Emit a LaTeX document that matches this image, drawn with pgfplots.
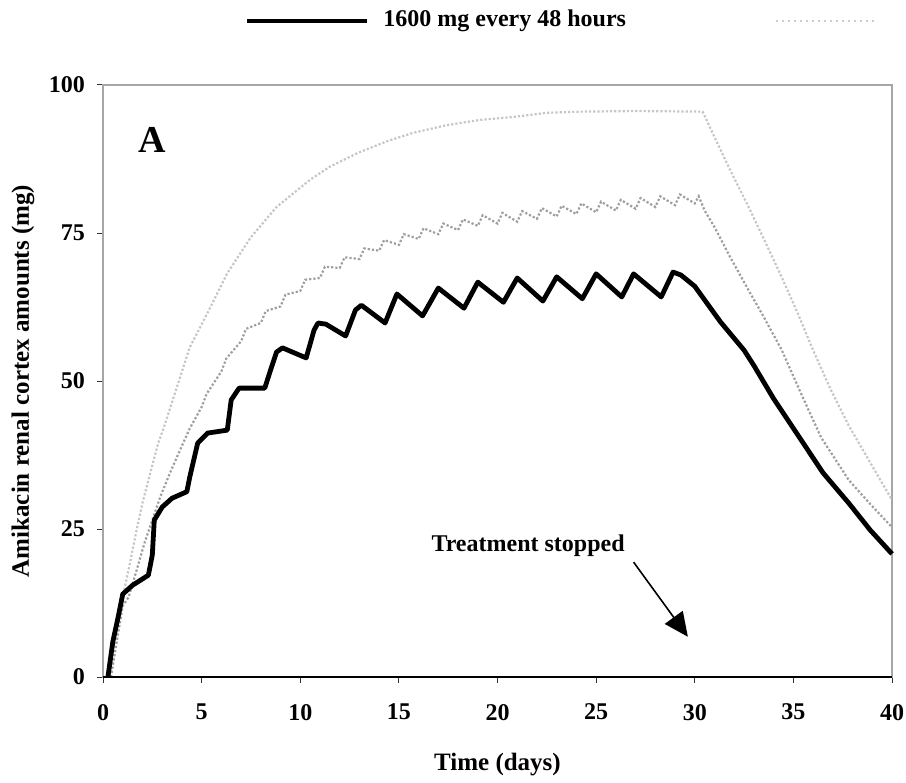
\documentclass[border=0pt]{standalone}
\usepackage{fontspec}
\setmainfont{Liberation Serif}
\usepackage{pgfplots}
\pgfplotsset{compat=1.18}
\usetikzlibrary{arrows.meta}
\begin{document}
\begin{tikzpicture}
\begin{axis}[
  name=ax,
  scale only axis, width=394.5pt, height=296pt,
  xmin=0, xmax=40, ymin=0, ymax=100,
  xtick={0,5,...,40}, ytick={0,25,50,75,100},
  tick align=outside, tick pos=left, major tick length=3pt,
  axis line style={gray!70, line width=0.6pt},
  tick style={black!80, line width=0.5pt},
  /pgf/number format/assume math mode=true,
  ticklabel style={font=\fontsize{12}{14}\selectfont\bfseries},
  xticklabel style={yshift=-7pt},
  yticklabel style={xshift=-2.5pt},
  xlabel={Time (days)}, ylabel={Amikacin renal cortex amounts (mg)},
  label style={font=\fontsize{12.5}{15}\selectfont\bfseries},
  xlabel style={at={(axis description cs:0.5,-0.1486)}, anchor=center},
  ylabel style={at={(axis description cs:-0.1014,0.5)}, anchor=center},
  clip=false,
]
% top curve (light gray dotted)
\addplot[gray!45, line width=1.1pt, densely dotted] coordinates {
(0.4,0) (0.7,7) (1.0,13.5) (1.37,19.3) (1.7,24.8) (2.0,29.4) (2.4,34.5) (2.8,39.5) (3.1,42.3)
(3.75,49) (4.4,55.7) (5.3,61.5) (6.3,68.2) (7.5,74.3) (8.8,79.4) (10.5,84) (11.5,86.2)
(12.9,88.5) (14.4,90.5) (15.7,91.9) (17.4,93.2) (19.1,94.1) (20.8,94.6) (22.5,95.3)
(24.2,95.5) (27,95.6) (30.4,95.5) (31.0,91.2) (31.8,85.6) (32.7,79.6) (33.5,74) (34.4,67.6)
(35.2,61.6) (36.0,55.2) (36.9,48.5) (37.8,42.5) (38.9,36.2) (40,29.9)
};
% middle curve (gray dotted, daily oscillation)
\addplot[gray!75, line width=1.1pt, densely dotted] coordinates {
(0.4,0) (0.7,6) (1.0,12) (1.3,13.5) (1.7,18) (2.1,22.6) (2.5,26.5) (2.9,30.4) (3.4,34.5)
(3.9,38.3) (4.4,42) (5.0,45.6) (5.25,47.8) (6.0,51.6) (6.25,53.8) (7.0,56.7) (7.25,58.8)
(8.0,59.8) (8.25,61.8) (9.0,62.6) (9.25,64.6) (10.0,65.2) (10.25,67.1) (11.0,67.4) (11.25,69.3)
(12.0,69.1) (12.25,70.9) (13.0,70.6) (13.25,72.4) (14.0,72.0) (14.25,73.8) (15.0,73.0) (15.25,74.8)
(16.0,74.0) (16.25,75.8) (17.0,74.8) (17.25,76.6) (18.0,75.5) (18.25,77.3) (19.0,76.2) (19.25,78.0)
(20.0,76.6) (20.25,78.4) (21.0,76.9) (21.25,78.7) (22.0,77.4) (22.25,79.2) (23.0,77.8) (23.25,79.6)
(24.0,78.2) (24.25,80.0) (25.0,78.5) (25.25,80.3) (26.0,78.8) (26.25,80.6) (27.0,79.1) (27.25,80.9)
(28.0,79.4) (28.25,81.2) (29.0,79.7) (29.25,81.5) (30.0,80.0) (30.2,81.2)
(30.5,78.8) (31.0,76) (31.8,70.9) (32.7,65.5) (33.5,60.8) (34.4,55.3) (35.4,47.8) (36.4,40.5)
(37.8,33.3) (38.9,29.2) (40,25.3)
};
% 1600 mg every 48 hours (black)
\addplot[black, line width=2.4pt, line join=round] coordinates {
(0.25,0) (0.5,6) (0.76,10) (1.0,14) (1.5,15.5) (2.3,17.2) (2.5,20.6) (2.6,26.5) (3.0,28.7)
(3.5,30.2) (4.25,31.3) (4.4,33.8) (4.8,39.5) (5.3,41.2) (6.3,41.7) (6.5,46.8) (6.9,48.8)
(8.2,48.8) (8.5,51.9) (8.8,54.9) (9.1,55.6) (10.3,53.9) (10.7,58.6) (10.9,59.8) (11.3,59.6)
(12.3,57.6) (12.8,62) (13.1,62.8) (14.3,59.8) (14.9,64.7) (16.2,61) (17.0,65.7) (18.3,62.3)
(19.0,66.7) (20.3,63.3) (21.0,67.4) (22.3,63.5) (23.0,67.6) (24.3,63.9) (25.0,68.1) (26.3,64.2)
(26.9,68.1) (28.3,64.2) (28.9,68.4) (29.3,67.9) (30.0,66) (31.3,60) (32.5,55.2) (33.0,52.6)
(34.0,47) (35.4,40) (36.5,34.5) (37.8,29.4) (38.9,24.8) (40,20.8)
};
\draw[black, line width=0.9pt] (rel axis cs:0,0) -- (rel axis cs:1,0);
\node[font=\fontsize{19}{22}\selectfont\bfseries] at (axis cs:2.49,90.7) {A};
\node[font=\fontsize{12}{14}\selectfont\bfseries] at (axis cs:21.55,22.1) {Treatment stopped};
\draw[line width=0.8pt, -{Triangle[length=12pt,width=11pt]}] (axis cs:26.9,19.4) -- (axis cs:29.65,6.8);
% legend (partially visible)
\draw[black, line width=1.6pt] (axis description cs:0.1825,1.108) -- (axis description cs:0.3346,1.108);
\node[anchor=west, inner sep=0pt, font=\fontsize{12}{14}\selectfont\bfseries] at (axis description cs:0.3549,1.108) {1600 mg every 48 hours};
\draw[gray!40, line width=1pt, dotted] (axis description cs:0.853,1.108) -- (axis description cs:0.980,1.108);
\end{axis}
\path (ax.south west) ++(-51.5pt,-52.5pt) coordinate (bl);
\path (ax.north east) ++(7pt,42.5pt) coordinate (tr);
\pgfresetboundingbox
\path[use as bounding box] (bl) rectangle (tr);
\end{tikzpicture}
\end{document}
